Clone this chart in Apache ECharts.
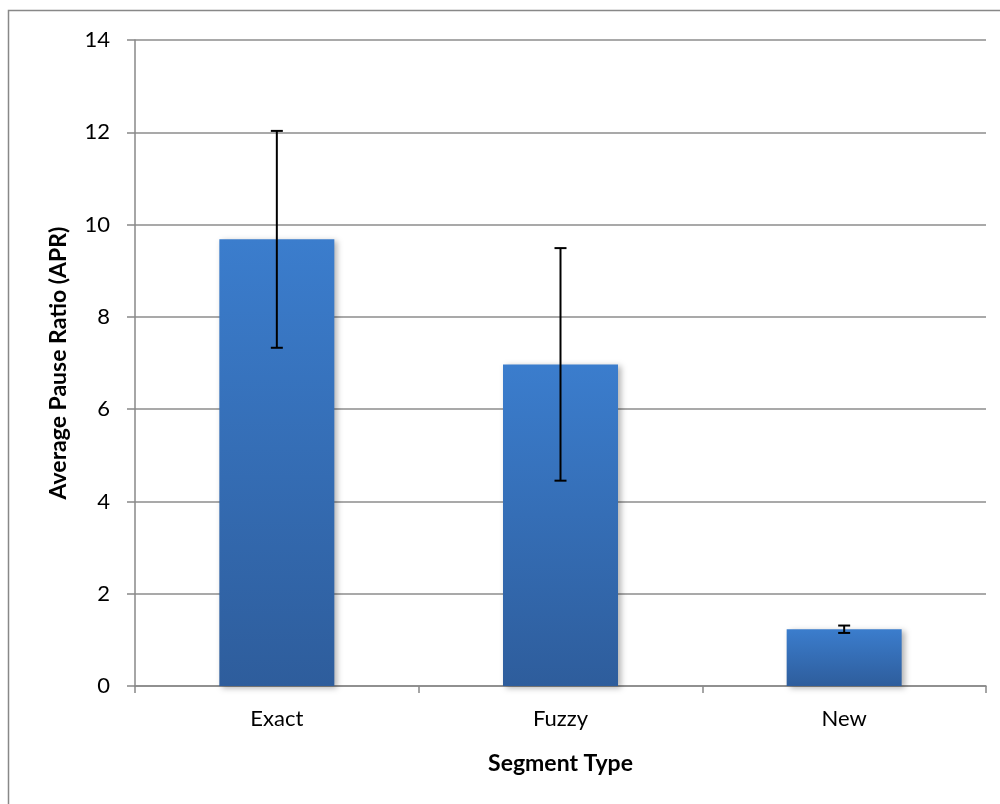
<!DOCTYPE html>
<html><head><meta charset="utf-8">
<script src="https://cdn.jsdelivr.net/npm/echarts@6/dist/echarts.min.js"></script>
<style>html,body{margin:0;padding:0;background:#fff}#c{width:1000px;height:804px}</style>
</head><body><div id="c"></div>
<script>
const categories = ['Exact', 'Fuzzy', 'New'];
const means = [9.68, 6.97, 1.23];
const errors = [2.35, 2.52, 0.08];
const yTicks = [0, 2, 4, 6, 8, 10, 12, 14];

const chart = echarts.init(document.getElementById('c'));
const FONT = 'Lato, "Open Sans", sans-serif';
const errData = categories.map((c, i) => [i, means[i] - errors[i], means[i] + errors[i]]);

chart.setOption({
  animation: false,
  graphic: [{
    type: 'rect', shape: { x: 8.5, y: 10.5, width: 1100, height: 900 },
    style: { fill: 'none', stroke: '#888', lineWidth: 1.5 }, silent: true, z: -1
  }],
  grid: { left: 135, right: 14, top: 40, bottom: 118 },
  xAxis: {
    type: 'category', data: categories,
    name: 'Segment Type', nameLocation: 'middle', nameGap: 66,
    nameTextStyle: { fontFamily: FONT, fontSize: 23, fontWeight: 'bold', color: '#000' },
    axisLine: { lineStyle: { color: '#888', width: 1.5 } },
    axisTick: { show: true, alignWithLabel: false, length: 7, lineStyle: { color: '#888', width: 1.5 } },
    axisLabel: { fontFamily: FONT, fontSize: 22, color: '#000', margin: 22 }
  },
  yAxis: {
    type: 'value', min: 0, max: 14, interval: 2,
    name: 'Average Pause Ratio (APR)', nameLocation: 'middle', nameGap: 65,
    nameTextStyle: { fontFamily: FONT, fontSize: 23, fontWeight: 'bold', color: '#000' },
    axisLine: { show: true, lineStyle: { color: '#888', width: 1.5 } },
    axisTick: { show: true, length: 8, lineStyle: { color: '#888', width: 1.5 } },
    axisLabel: { fontFamily: FONT, fontSize: 22, color: '#000', margin: 25,
      formatter: v => yTicks.includes(v) ? String(v) : '' },
    splitLine: { lineStyle: { color: '#8c8c8c', width: 1.5 } }
  },
  series: [{
    type: 'bar', data: means, barWidth: 115,
    itemStyle: {
      color: new echarts.graphic.LinearGradient(0, 0, 0, 1, [
        { offset: 0, color: '#3b7dcd' }, { offset: 1, color: '#2e5d9c' }
      ]),
      shadowBlur: 6, shadowOffsetX: 3, shadowOffsetY: 2, shadowColor: 'rgba(0,0,0,0.3)'
    }
  }, {
    type: 'custom', data: errData, z: 10,
    renderItem: function (params, api) {
      const x = api.value(0);
      const lo = api.coord([x, api.value(1)]);
      const hi = api.coord([x, api.value(2)]);
      const w = 6;
      const st = { stroke: '#000', lineWidth: 2 };
      return { type: 'group', children: [
        { type: 'line', shape: { x1: hi[0], y1: hi[1], x2: lo[0], y2: lo[1] }, style: st },
        { type: 'line', shape: { x1: hi[0] - w, y1: hi[1], x2: hi[0] + w, y2: hi[1] }, style: st },
        { type: 'line', shape: { x1: lo[0] - w, y1: lo[1], x2: lo[0] + w, y2: lo[1] }, style: st }
      ]};
    }
  }]
});
</script></body></html>
